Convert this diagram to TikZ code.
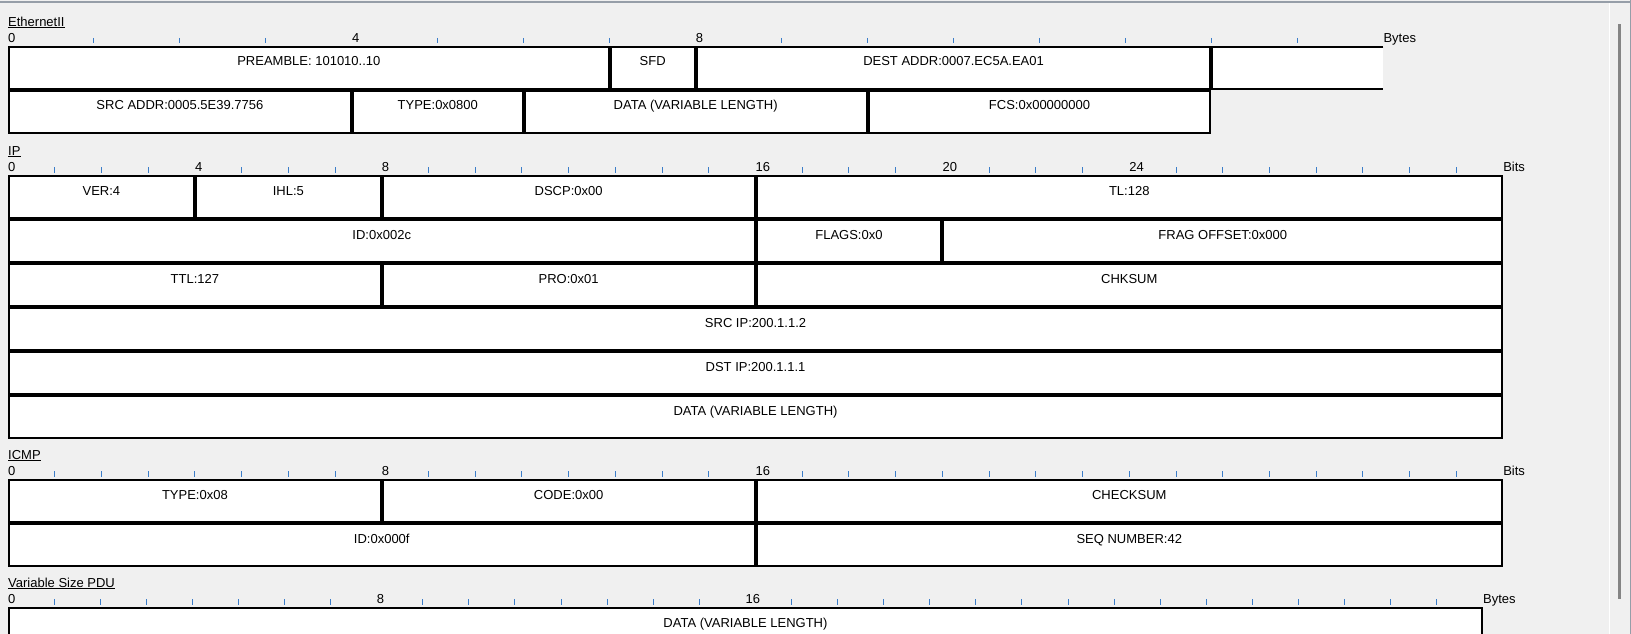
\documentclass[tikz,border=0pt]{standalone}
\usepackage{fontspec}
\setmainfont{Liberation Sans}
\definecolor{bgc}{RGB}{240,240,240}
\definecolor{tickc}{RGB}{60,125,200}
\definecolor{framec}{RGB}{150,158,168}
\definecolor{thumbc}{RGB}{133,133,133}
\tikzset{
  fbox/.style={draw=black, fill=white, line width=2pt, inner sep=0pt, outer sep=0pt, rectangle},
  ftext/.style={anchor=base, inner sep=0pt, text=black},
  rnum/.style={anchor=base west, inner sep=0pt, text=black},
  tickmark/.style={draw=tickc, line width=1pt},
  slabel/.style={anchor=base west, inner sep=0pt, text=black},
}
% field box: name, first unit, last unit, row top, text
\newcommand{\UF}[5]{%
  \pgfmathsetmacro{\fxa}{\xo+#2*\uu}%
  \pgfmathsetmacro{\fxb}{\xo+#3*\uu}%
  \pgfmathsetmacro{\fxw}{\fxb-\fxa-2}%
  \pgfmathsetmacro{\fxm}{(\fxa+\fxb)/2}%
  \node[fbox, minimum width=\fxw pt, minimum height=\fhh pt, anchor=north west] (#1) at ({\fxa+1},{#4+1}) {};
  \node[ftext] (#1-t) at (\fxm,{#4+20}) {#5};
}
% ruler: name, top of boxes, units, labelled units, ticks, unit word, title
\newcommand{\Ruler}[7]{%
  \node[slabel] (#1-lbl) at (\xo,{#2-19.5}) {#7};
  \draw[line width=1pt] ([yshift=-1.2pt]#1-lbl.base west) -- ([yshift=-1.2pt]#1-lbl.base east);
  \foreach \k in {#4} { \node[rnum] (#1-n\k) at ({\xo+\k*\uu},{#2-3.3}) {\k}; }
  \foreach \k in {#5} { \draw[tickmark] ({\xo+\k*\uu},{#2-8}) -- ({\xo+\k*\uu},{#2-2.5}); }
  \node[rnum] (#1-unit) at ({\xo+#3*\uu},{#2-3.3}) {#6};
}
\begin{document}
\begin{tikzpicture}[x=1pt,y=-1pt,font=\fontsize{13pt}{15pt}\selectfont]
\fill[bgc] (0,0) rectangle (1631,634);
\useasboundingbox (0,0) rectangle (1631,634);
% window chrome
\fill[framec] (0,1) rectangle (1631,2.7);
\fill[white] (1609,2.7) rectangle (1610,634);
\fill[framec] (1630,0) rectangle (1631,634);
\fill[thumbc] (1618,24) rectangle (1621,599);
\def\fhh{42}
% ---------------- Ethernet II
\def\xo{8}\def\uu{85.96}
\Ruler{eth}{46}{16}{0,4,8}{1,2,3,5,6,7,9,10,11,12,13,14,15}{Bytes}{EthernetII}
\UF{pre}{0}{7}{46}{PREAMBLE: 101010..10}
\UF{sfd}{7}{8}{46}{SFD}
\UF{dst}{8}{14}{46}{DEST ADDR:0007.EC5A.EA01}
\fill[white] (1211.4,47) rectangle (1383.4,89);
\draw[line width=2pt] (1383.4,47) -- (1212.4,47) -- (1212.4,89) -- (1383.4,89);
\UF{src}{0}{4}{90}{SRC ADDR:0005.5E39.7756}
\UF{etype}{4}{6}{90}{TYPE:0x0800}
\UF{edata}{6}{10}{90}{DATA (VARIABLE LENGTH)}
\UF{fcs}{10}{14}{90}{FCS:0x00000000}
% ---------------- IP
\def\uu{46.72}
\Ruler{ip}{175}{32}{0,4,8,16,20,24}{1,2,3,5,6,7,9,10,11,12,13,14,15,17,18,19,21,22,23,25,26,27,28,29,30,31}{Bits}{IP}
\UF{ver}{0}{4}{175}{VER:4}
\UF{ihl}{4}{8}{175}{IHL:5}
\UF{dscp}{8}{16}{175}{DSCP:0x00}
\UF{tl}{16}{32}{175}{TL:128}
\UF{ipid}{0}{16}{219}{ID:0x002c}
\UF{flags}{16}{20}{219}{FLAGS:0x0}
\UF{frag}{20}{32}{219}{FRAG OFFSET:0x000}
\UF{ttl}{0}{8}{263}{TTL:127}
\UF{pro}{8}{16}{263}{PRO:0x01}
\UF{chk}{16}{32}{263}{CHKSUM}
\UF{srcip}{0}{32}{307}{SRC IP:200.1.1.2}
\UF{dstip}{0}{32}{351}{DST IP:200.1.1.1}
\UF{ipdata}{0}{32}{395}{DATA (VARIABLE LENGTH)}
% ---------------- ICMP
\Ruler{icmp}{479}{32}{0,8,16}{1,2,3,4,5,6,7,9,10,11,12,13,14,15,17,18,19,20,21,22,23,24,25,26,27,28,29,30,31}{Bits}{ICMP}
\UF{itype}{0}{8}{479}{TYPE:0x08}
\UF{icode}{8}{16}{479}{CODE:0x00}
\UF{isum}{16}{32}{479}{CHECKSUM}
\UF{iid}{0}{16}{523}{ID:0x000f}
\UF{iseq}{16}{32}{523}{SEQ NUMBER:42}
% ---------------- Variable Size PDU
\def\uu{46.09}
\Ruler{pdu}{607}{32}{0,8,16}{1,2,3,4,5,6,7,9,10,11,12,13,14,15,17,18,19,20,21,22,23,24,25,26,27,28,29,30,31}{Bytes}{Variable Size PDU}
\UF{pdata}{0}{32}{607}{DATA (VARIABLE LENGTH)}
\end{tikzpicture}
\end{document}
